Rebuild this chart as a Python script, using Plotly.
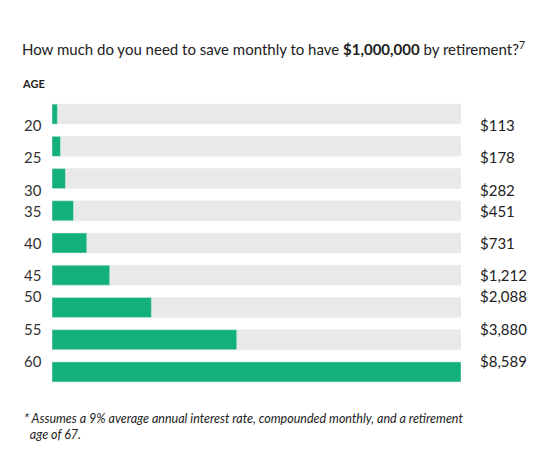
import plotly.graph_objects as go

ages = ["20", "25", "30", "35", "40", "45", "50", "55", "60"]
monthly = [113, 178, 282, 451, 731, 1212, 2088, 3880, 8589]
labels = ["$113", "$178", "$282", "$451", "$731", "$1,212", "$2,088", "$3,880", "$8,589"]

mx = max(monthly)
fig = go.Figure()
fig.add_bar(y=ages, x=[mx]*len(ages), orientation="h", marker_color="#e9e9e9",
            width=0.62, hoverinfo="skip")
fig.add_bar(y=ages, x=monthly, orientation="h", marker_color="#13b07c", width=0.62)

W, H = 540, 449
l, r, t, b = 44, 87, 90, 69
fig.update_layout(
    width=W, height=H, barmode="overlay", showlegend=False,
    plot_bgcolor="white", paper_bgcolor="white",
    margin=dict(l=l, r=r, t=t, b=b),
    font=dict(family="Lato", color="#222"),
    xaxis=dict(visible=False, range=[0, mx]),
    yaxis=dict(visible=False, type="category", range=[8.5, -0.5],
               categoryorder="array", categoryarray=ages),
)
pw = W - l - r
ph = H - t - b
for i, (a, lab) in enumerate(zip(ages, labels)):
    yy = 1 - (i + 0.5) / len(ages)
    fig.add_annotation(x=(14 - l) / pw, xref="paper", y=yy, yref="paper", text=a,
                       showarrow=False, xanchor="left", font=dict(size=15, color="#333"))
    fig.add_annotation(x=(470 - l) / pw, xref="paper", y=yy, yref="paper", text=lab,
                       showarrow=False, xanchor="left", font=dict(size=15, color="#222"))

def py(yp):
    return (H - b - yp) / ph

fig.add_annotation(x=(12 - l) / pw, y=py(40), xref="paper", yref="paper",
                   text="How much do you need to save monthly to have <b>$1,000,000</b> by retirement?<sup>7</sup>",
                   showarrow=False, xanchor="left", yanchor="middle", font=dict(size=15, color="#222"))
fig.add_annotation(x=(12 - l) / pw, y=py(76), xref="paper", yref="paper", text="<b>AGE</b>",
                   showarrow=False, xanchor="left", yanchor="middle", font=dict(size=11, color="#222"))
fig.add_annotation(x=(14 - l) / pw, y=py(418), xref="paper", yref="paper",
                   text="<i>* Assumes a 9% average annual interest rate, compounded monthly, and a retirement<br>  age of 67.</i>",
                   showarrow=False, xanchor="left", yanchor="middle", align="left",
                   font=dict(size=12.5, color="#222"))

fig.write_html("out.html")
